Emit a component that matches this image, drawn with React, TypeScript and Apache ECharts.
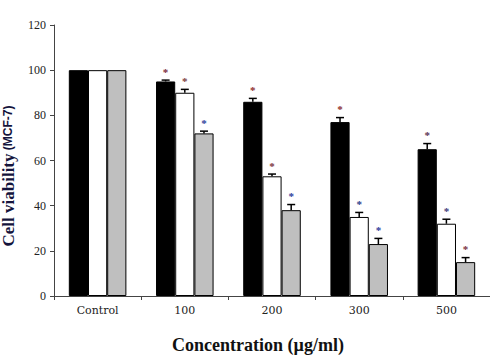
import React, { useEffect, useRef } from "react";
import * as echarts from "echarts";

const categories = ["Control", "100", "200", "300", "500"];
const seriesA = [100, 95, 86, 77, 65];
const seriesB = [100, 90, 53, 35, 32];
const seriesC = [100, 72, 38, 23, 15];
const errA = [0, 0.6, 1.5, 2, 2.5];
const errB = [0, 1.5, 1, 2, 2];
const errC = [0, 1, 2.5, 2.5, 2];
const yTicks = [0, 20, 40, 60, 80, 100, 120];
const starColorsA = ["", "#7a2a3a", "#8b2a2a", "#8b2a2a", "#5a3050"];
const starColorsB = ["", "#7a3a3a", "#7a3040", "#2a3a8a", "#3a3a7a"];
const starColorsC = ["", "#2a3a9a", "#2a3a9a", "#2a3a9a", "#7a3040"];

const BAR_FRAC = 0.22;

function makeErr(vals: number[], errs: number[], colors: string[], k: number) {
  const data = vals
    .map((v, i) => [i, v, errs[i]])
    .filter((d, i) => categories[i] !== "Control");
  return {
    type: "custom",
    z: 5,
    data,
    renderItem: (params: any, api: any) => {
      const cat = api.value(0);
      const v = api.value(1);
      const e = api.value(2);
      const p = api.coord([cat, v]);
      const pe = api.coord([cat, v + e]);
      const bw = api.size([1, 0])[0] * BAR_FRAC;
      const x = p[0] + (k - 1) * bw;
      const col = colors[cat] || "#333";
      return {
        type: "group",
        children: [
          {
            type: "line",
            shape: { x1: x, y1: p[1], x2: x, y2: pe[1] },
            style: { stroke: "#000", lineWidth: 1.5 },
          },
          {
            type: "line",
            shape: { x1: x - 4, y1: pe[1], x2: x + 4, y2: pe[1] },
            style: { stroke: "#000", lineWidth: 1.5 },
          },
          {
            type: "text",
            x: x,
            y: pe[1] - 3,
            style: {
              text: "*",
              fill: col,
              font: "bold 11px 'Liberation Serif'",
              textAlign: "center",
              textVerticalAlign: "bottom",
            },
          },
        ],
      };
    },
  };
}

export default function App() {
  const ref = useRef<HTMLDivElement>(null);
  useEffect(() => {
    const chart = echarts.init(ref.current!, null, { renderer: "svg" });
    chart.setOption({
      animation: false,
      backgroundColor: "#fff",
      grid: { left: 54, top: 25, width: 447, height: 271 },
      xAxis: {
        type: "category",
        data: categories,
        axisLine: { lineStyle: { color: "#444", width: 1 } },
        axisTick: { show: true, length: 4, lineStyle: { color: "#444" } },
        axisLabel: {
          color: "#222",
          fontFamily: "DejaVu Serif",
          fontSize: 11,
          margin: 9,
        },
      },
      yAxis: {
        type: "value",
        min: 0,
        max: 120,
        interval: 20,
        splitLine: { show: false },
        axisLine: { show: true, lineStyle: { color: "#444", width: 1 } },
        axisTick: { show: true, length: 4, lineStyle: { color: "#444" } },
        axisLabel: {
          color: "#222",
          fontFamily: "Liberation Serif",
          fontSize: 12,
          margin: 8,
          formatter: (v: number) => (yTicks.includes(v) ? String(v) : ""),
        },
      },
      graphic: [
        {
          type: "text",
          x: 8,
          y: 176,
          rotation: Math.PI / 2,
          style: {
            text: "{a|Cell viability} {b|(MCF-7)}",
            textAlign: "center",
            textVerticalAlign: "middle",
            fill: "#14143c",
            rich: {
              a: {
                fontFamily: "Liberation Serif",
                fontWeight: "bold",
                fontSize: 17,
                fill: "#14143c",
              },
              b: {
                fontFamily: "Liberation Sans Narrow, Liberation Sans",
                fontWeight: "bold",
                fontSize: 12,
                fill: "#14143c",
              },
            },
          },
        },
        {
          type: "text",
          x: 258,
          y: 345,
          style: {
            text: "Concentration (µg/ml)",
            textAlign: "center",
            textVerticalAlign: "middle",
            fill: "#111",
            font: "bold 18px 'Liberation Serif'",
          },
        },
      ],
      series: [
        {
          type: "bar",
          data: seriesA,
          barWidth: BAR_FRAC * 100 + "%",
          barGap: "0%",
          itemStyle: { color: "#000", borderColor: "#000", borderWidth: 1 },
        },
        {
          type: "bar",
          data: seriesB,
          barWidth: BAR_FRAC * 100 + "%",
          barGap: "0%",
          itemStyle: { color: "#fff", borderColor: "#000", borderWidth: 1 },
        },
        {
          type: "bar",
          data: seriesC,
          barWidth: BAR_FRAC * 100 + "%",
          barGap: "0%",
          itemStyle: { color: "#bfbfbf", borderColor: "#000", borderWidth: 1 },
        },
        makeErr(seriesA, errA, starColorsA, 0),
        makeErr(seriesB, errB, starColorsB, 1),
        makeErr(seriesC, errC, starColorsC, 2),
      ],
    });
    return () => chart.dispose();
  }, []);
  return <div ref={ref} style={{ width: 490, height: 364, position: "absolute", left: 0, top: 0 }} />;
}
